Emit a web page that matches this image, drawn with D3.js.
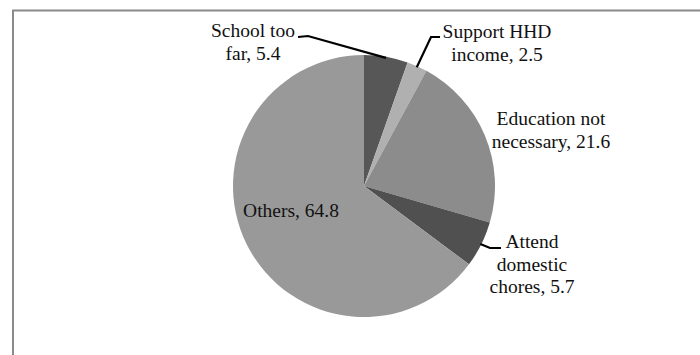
<!DOCTYPE html>
<html>
<head>
<meta charset="utf-8">
<script src="https://cdn.jsdelivr.net/npm/d3@7"></script>
<style>
  html, body { margin: 0; padding: 0; background: #ffffff; }
  svg { display: block; }
  .lbl { font: 19.5px "Liberation Serif", "DejaVu Serif", serif; fill: #111; }
</style>
</head>
<body>
<svg id="chart" width="700" height="355"></svg>
<script>
// Reasons for not attending school (percent)
const categories = ["School too far", "Support HHD income", "Education not necessary", "Attend domestic chores", "Others"];
const values = [5.4, 2.5, 21.6, 5.7, 64.8];
// Label lines drawn for each slice
const labelLines = [
  ["School too", "far, 5.4"],
  ["Support HHD", "income, 2.5"],
  ["Education not", "necessary, 21.6"],
  ["Attend", "domestic", "chores, 5.7"],
  ["Others, 64.8"]
];
const sliceColors = ["#575757", "#b0b0b0", "#8c8c8c", "#505050", "#999999"];

const data = categories.map((c, i) => ({ category: c, value: values[i], lines: labelLines[i] }));

const width = 700, height = 355;
const cx = 364, cy = 186, radius = 131;
const lineHeight = 22.5;

const svg = d3.select("#chart");

// Plot frame (only top and left edges fall inside the view)
svg.append("rect")
  .attr("x", 13).attr("y", 10.5)
  .attr("width", 720).attr("height", 380)
  .attr("fill", "none")
  .attr("stroke", "#8a8a8a")
  .attr("stroke-width", 2);

const color = d3.scaleOrdinal().domain(categories).range(sliceColors);

const pie = d3.pie().value(d => d.value).sort(null).startAngle(0).endAngle(2 * Math.PI);
const arcs = pie(data);

const arc = d3.arc().innerRadius(0).outerRadius(radius);
const rimArc = d3.arc().innerRadius(radius - 1).outerRadius(radius - 1);

const g = svg.append("g").attr("transform", `translate(${cx},${cy})`);

g.selectAll("path.slice")
  .data(arcs)
  .join("path")
  .attr("class", "slice")
  .attr("d", arc)
  .attr("fill", d => color(d.data.category));

// Label placement: text centre (relative to pie centre), first baseline,
// and the elbow/end points of any leader line.
const layout = {
  "School too far":          { x: -111, y: -149, leader: [[-56, -150], [-66, -149]] },
  "Support HHD income":      { x: 133,  y: -148, leader: [[67, -149], [76, -149]] },
  "Education not necessary": { x: 187,  y: -61 },
  "Attend domestic chores":  { x: 168,  y: 62,  leader: [[126, 62], [137, 62]] },
  "Others":                  { x: -73,  y: 31 }
};

arcs.forEach(d => {
  const L = layout[d.data.category];
  if (L.leader) {
    const p0 = rimArc.centroid(d);
    const pts = [p0, L.leader[0], L.leader[1]];
    g.append("path")
      .attr("d", d3.line()(pts))
      .attr("fill", "none")
      .attr("stroke", "#000")
      .attr("stroke-width", 2.2);
  }
  const t = g.append("text")
    .attr("class", "lbl")
    .attr("text-anchor", "middle")
    .attr("x", L.x).attr("y", L.y);
  d.data.lines.forEach((ln, i) => {
    t.append("tspan")
      .attr("x", L.x)
      .attr("dy", i === 0 ? 0 : lineHeight)
      .text(ln);
  });
});
</script>
</body>
</html>
